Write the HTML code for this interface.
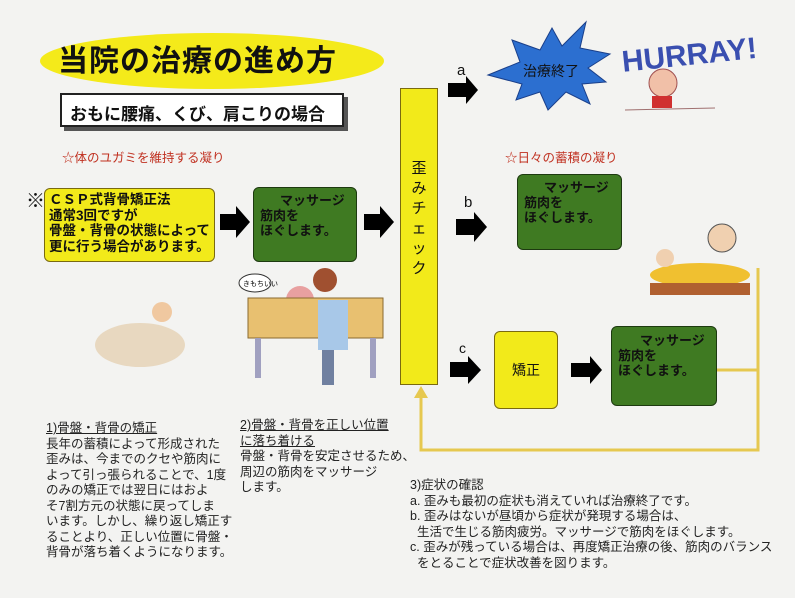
<!DOCTYPE html>
<html><head><meta charset="utf-8"><style>
*{margin:0;padding:0;box-sizing:border-box}
body{width:795px;height:598px;background:#f3f3f1;position:relative;overflow:hidden;font-family:"Liberation Sans","Noto Sans CJK JP",sans-serif;color:#111}
.a{position:absolute}
.g{background:#3f7a22;border:1px solid #1d3a10;border-radius:6px;font-size:13px;line-height:15px;font-weight:bold;color:#111;padding:5px 6px}
.y{background:#f2ea1a;border:1px solid #7a6a10;border-radius:6px}
.t{font-size:12.5px;line-height:15.5px;color:#222;white-space:nowrap}
</style></head><body>
<svg class="a" style="left:0;top:0" width="795" height="598">
<ellipse cx="212" cy="61" rx="172" ry="28" fill="#f4ea1a"/>
<g fill="#000">
<polygon points="220,214 236,214 236,206 250,222 236,238 236,230 220,230"/>
<polygon points="364,214 380,214 380,206 394,222 380,238 380,230 364,230"/>
<polygon points="448,83 466,83 466,76 478,90 466,104 466,97 448,97"/>
<polygon points="456,219 474,219 474,212 487,227 474,242 474,235 456,235"/>
<polygon points="450,362 468,362 468,356 481,370 468,384 468,377 450,377"/>
<polygon points="571,363 590,363 590,356 602,370 590,384 590,377 571,377"/>
</g>
<polygon points="488,75 520,62 512,40 540,50 552,28 562,46 586,22 580,48 610,54 588,68 606,82 582,84 590,104 566,92 548,110 540,92 516,100 522,84" fill="#2c6fd0" stroke="#1a3f8a"/>
<text x="523" y="76" font-size="14" fill="#111" font-family="Liberation Sans,Noto Sans CJK JP,sans-serif">治療終了</text>
<text x="622" y="68" font-size="30" font-weight="bold" fill="#3a4fb0" font-family="Liberation Sans,sans-serif" transform="rotate(-6 660 60)">HURRAY!</text>
<circle cx="663" cy="83" r="14" fill="#f1c0a8" stroke="#a05050"/>
<rect x="652" y="96" width="20" height="12" fill="#d03030"/>
<line x1="625" y1="110" x2="715" y2="108" stroke="#a07070"/>
<g stroke="#e6c850" stroke-width="3" fill="none">
<polyline points="758,268 758,450 421,450 421,393"/>
<line x1="716" y1="370" x2="758" y2="370"/>
</g>
<polygon points="414,398 421,386 428,398" fill="#e6c850"/>
<ellipse cx="140" cy="345" rx="45" ry="22" fill="#e8d8c0"/>
<circle cx="162" cy="312" r="10" fill="#f0c8a0"/>
<circle cx="300" cy="300" r="14" fill="#e8a0a0"/>
<rect x="248" y="298" width="135" height="40" fill="#e8c070" stroke="#8a6a30"/>
<rect x="255" y="338" width="6" height="40" fill="#a0a0c0"/>
<rect x="370" y="338" width="6" height="40" fill="#a0a0c0"/>
<rect x="318" y="300" width="30" height="50" fill="#a8c8e8"/>
<circle cx="325" cy="280" r="12" fill="#a05030"/>
<rect x="322" y="350" width="12" height="35" fill="#7080a0"/>
<ellipse cx="255" cy="283" rx="16" ry="9" fill="#fff" stroke="#333"/>
<text x="243" y="286" font-size="7" font-family="Noto Sans CJK JP,sans-serif">きもちいい</text>
<ellipse cx="700" cy="275" rx="50" ry="12" fill="#f0c030"/>
<rect x="650" y="283" width="100" height="12" fill="#b06030"/>
<circle cx="722" cy="238" r="14" fill="#f0d0b0" stroke="#555"/>
<circle cx="665" cy="258" r="9" fill="#f0d0b0"/>
</svg>
<div class="a" style="left:58px;top:36px;font-size:30px;font-weight:bold;letter-spacing:1px">当院の治療の進め方</div>
<div class="a" style="left:60px;top:93px;width:284px;height:34px;background:#fff;border:2px solid #222;box-shadow:4px 4px 0 #555;font-size:17px;font-weight:bold;padding:5px 0 0 8px">おもに腰痛、くび、肩こりの場合</div>
<div class="a" style="left:62px;top:147px;font-size:12.5px;color:#c03020">☆体のユガミを維持する凝り</div>
<div class="a" style="left:505px;top:147px;font-size:12.5px;color:#c03020">☆日々の蓄積の凝り</div>
<div class="a" style="left:26px;top:186px;font-size:19px;font-weight:bold">※</div>
<div class="a y" style="left:44px;top:188px;width:171px;height:74px;font-size:13.5px;line-height:15.5px;font-weight:bold;padding:3px 4px">ＣＳＰ式背骨矯正法<br>通常3回ですが<br>骨盤・背骨の状態によって<br>更に行う場合があります。</div>
<div class="a g" style="left:253px;top:187px;width:104px;height:75px"><div style="padding-left:20px">マッサージ</div>筋肉を<br>ほぐします。</div>
<div class="a y" style="left:400px;top:88px;width:38px;height:297px;border-radius:0;font-size:15px;line-height:20px;text-align:center;padding-top:70px">歪<br>み<br>チ<br>ェ<br>ッ<br>ク</div>
<div class="a" style="left:457px;top:62px;font-size:15px">a</div>
<div class="a" style="left:464px;top:194px;font-size:15px">b</div>
<div class="a" style="left:459px;top:340px;font-size:14px">c</div>
<div class="a g" style="left:517px;top:174px;width:105px;height:76px"><div style="padding-left:20px">マッサージ</div>筋肉を<br>ほぐします。</div>
<div class="a y" style="left:494px;top:331px;width:64px;height:78px;font-size:14px;text-align:center;padding-top:28px">矯正</div>
<div class="a g" style="left:611px;top:326px;width:106px;height:80px;padding-top:6px"><div style="padding-left:22px">マッサージ</div>筋肉を<br>ほぐします。</div>
<div class="a t" style="left:46px;top:421px"><u>1)骨盤・背骨の矯正</u><br>長年の蓄積によって形成された<br>歪みは、今までのクセや筋肉に<br>よって引っ張られることで、1度<br>のみの矯正では翌日にはおよ<br>そ7割方元の状態に戻ってしま<br>います。しかし、繰り返し矯正す<br>ることより、正しい位置に骨盤・<br>背骨が落ち着くようになります。</div>
<div class="a t" style="left:240px;top:418px"><u>2)骨盤・背骨を正しい位置</u><br><u>に落ち着ける</u><br>骨盤・背骨を安定させるため、<br>周辺の筋肉をマッサージ<br>します。</div>
<div class="a t" style="left:410px;top:478px">3)症状の確認<br>a. 歪みも最初の症状も消えていれば治療終了です。<br>b. 歪みはないが昼頃から症状が発現する場合は、<br>&nbsp;&nbsp;生活で生じる筋肉疲労。マッサージで筋肉をほぐします。<br>c. 歪みが残っている場合は、再度矯正治療の後、筋肉のバランス<br>&nbsp;&nbsp;をとることで症状改善を図ります。</div>
</body></html>
